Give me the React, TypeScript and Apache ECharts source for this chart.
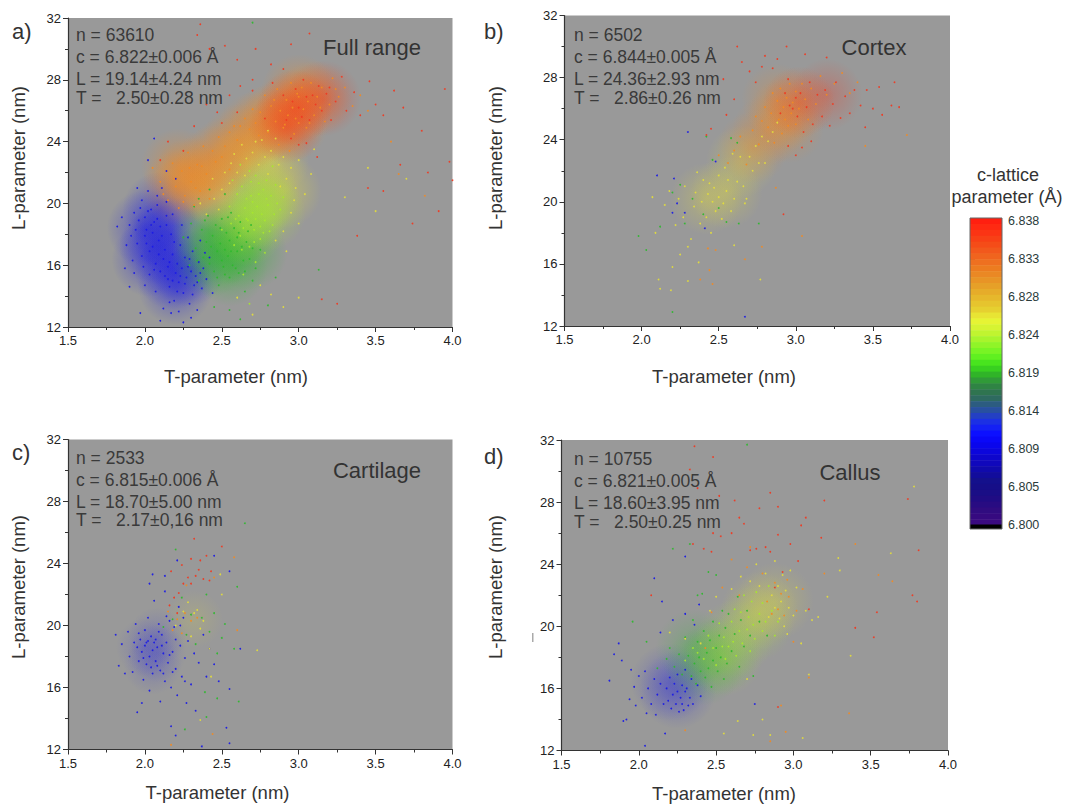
import React, { useEffect, useRef } from "react";
import * as echarts from "echarts";

const xTicks = [1.5, 2.0, 2.5, 3.0, 3.5, 4.0];
const yTicks = [12, 16, 20, 24, 28, 32];
const colorbarLabels = ["6.800", "6.805", "6.809", "6.814", "6.819", "6.824", "6.828", "6.833", "6.838"];
const colorbarBands = [
  "#ff1f10","#ff2a12","#fb3414","#f84016","#f54c18","#f2581c","#f0641e","#ee7020","#ec7c20","#ea8824","#e89426","#e6a028",
  "#e6ac2a","#e6b82c","#e6c42e","#e6d030","#e8e434","#e6f434","#d6f432","#c0f430","#a8f42c","#90f428","#78f424","#60f020","#48e41e","#38d020",
  "#30b428","#309a38","#2f8444","#2f7450","#2e6a60","#2c5c80","#2850a0","#2440c4","#1c30e4","#1420f4","#0c10ff","#0a08f8","#0a06ec","#0c06dc","#0e06cc","#1008bc",
  "#100aac","#120c9c","#14108c","#160e88","#1a0e86","#200c84","#280c82","#300c80","#360a80","#3a0a80"
];

// Panel a: Full range (T nm, L nm pairs)
const aBlue = [1.9,18.6,1.93,19.4,1.95,17.4,1.96,18.9,1.98,20.2,1.98,16.6,2.0,19.1,2.0,17.9,2.01,18.3,2.02,20.8,2.03,16.9,2.03,15.4,2.04,19.6,2.05,18.1,2.05,17.2,2.06,18.8,2.07,14.3,2.07,16.1,2.08,19.9,2.09,17.6,2.1,15.6,2.1,18.5,2.11,21.0,2.12,16.4,2.12,13.2,2.13,17.0,2.14,19.2,2.15,15.1,2.15,15.9,2.16,14.6,2.17,18.0,2.18,16.7,2.18,15.0,2.19,13.7,2.2,15.5,2.2,21.6,2.21,16.1,2.22,14.9,2.23,17.3,2.24,15.8,2.25,14.2,2.26,16.5,2.27,15.2,2.28,15.9,2.29,13.5,2.3,15.6,2.31,16.9,2.32,14.7,2.33,15.3,2.35,16.2,2.37,14.5,2.38,15.8,2.4,15.1,2.42,16.5,2.44,14.2,2.3,12.6,2.1,12.4,1.97,12.9,1.85,19.1,1.87,15.8,1.82,18.5,1.9,14.6,1.92,16.3,2.02,22.8,2.06,24.2,1.88,17.3,1.93,15.5,2.0,14.7,2.08,20.5,2.14,20.1,2.18,19.3,2.24,18.6,2.28,17.8,2.36,17.6,2.14,22.1,1.95,21.0,2.17,12.9,2.34,13.1,2.25,12.3,1.91,17.9,1.94,18.3,1.97,19.7,1.99,15.9,2.01,17.4,2.02,19.5,2.04,18.6,2.06,15.7,2.08,19.0,2.09,16.7,2.11,17.9,2.13,15.3,2.14,18.6,2.16,16.2,2.19,17.5,2.21,14.3,2.23,15.3,2.26,14.8,2.29,16.4,2.31,14.1,2.34,14.9,2.36,15.5,2.39,16.8,2.16,13.6,2.22,13.0];
const aGreen = [2.25,17.8,2.3,18.7,2.33,17.1,2.35,15.0,2.37,18.3,2.38,16.5,2.4,17.5,2.41,19.2,2.42,16.1,2.44,17.9,2.45,15.6,2.46,18.6,2.47,16.9,2.48,14.7,2.49,17.4,2.5,16.3,2.5,19.0,2.51,15.9,2.52,17.0,2.53,18.1,2.54,16.6,2.55,15.2,2.55,17.6,2.56,19.4,2.57,16.0,2.58,18.4,2.6,16.9,2.6,17.8,2.61,15.5,2.62,18.8,2.63,17.2,2.64,16.3,2.65,14.3,2.66,17.5,2.67,18.2,2.68,16.4,2.7,17.1,2.72,15.8,2.45,13.3,2.55,13.1,2.8,13.4,2.62,12.5,2.35,20.3,2.42,20.9,2.52,20.6,2.7,15.0,2.29,16.0,2.32,19.8,2.75,17.0,2.85,15.2,3.13,15.7,2.7,31.7,2.34,16.3,2.39,18.9,2.43,17.2,2.47,15.2,2.49,18.4,2.52,15.4,2.54,19.1,2.56,16.9,2.59,15.8,2.61,18.1,2.65,15.6,2.69,18.6];
const aLime = [2.5,18.3,2.55,19.8,2.56,18.7,2.58,17.3,2.6,20.6,2.61,19.2,2.62,17.9,2.63,21.1,2.64,18.4,2.65,19.7,2.66,20.3,2.67,18.9,2.68,17.2,2.69,21.4,2.7,19.4,2.7,20.1,2.71,18.3,2.72,19.0,2.72,21.8,2.73,19.8,2.74,20.6,2.75,18.5,2.75,17.7,2.76,19.3,2.77,20.9,2.78,18.9,2.79,21.5,2.8,19.9,2.81,18.2,2.82,20.5,2.84,19.3,2.85,21.2,2.88,19.6,2.9,20.4,2.68,22.1,2.62,22.5,2.57,21.5,2.83,22.4,2.78,16.8,2.72,16.2,2.64,15.4,2.68,13.5,2.59,19.0,2.63,17.0,2.66,19.0,2.69,20.5,2.71,17.5,2.74,21.3,2.77,18.1,2.79,20.3,2.83,18.6,2.86,20.0];
const aYellow = [2.4,19.3,2.45,20.3,2.5,20.9,2.52,22.0,2.55,21.3,2.58,23.2,2.6,22.0,2.63,23.8,2.66,22.9,2.7,23.3,2.74,22.5,2.76,24.1,2.78,23.0,2.8,21.9,2.82,23.4,2.85,24.2,2.87,22.5,2.9,23.0,2.92,21.6,2.95,22.3,2.98,21.0,3.0,22.8,3.04,20.6,3.08,21.9,2.9,18.2,2.95,19.4,3.0,18.7,2.85,17.6,2.92,16.9,2.75,14.7,2.82,14.1,2.9,13.3,3.0,13.9,2.6,13.9,2.7,12.8,3.3,20.4,3.45,22.3,3.5,19.5,3.7,21.6,2.44,21.6,2.36,20.0,3.1,23.5,2.48,19.6,2.56,22.6,2.65,21.8,2.72,24.0,2.8,24.7,2.88,21.1,2.97,20.2];
const aOrange = [2.05,22.3,2.1,21.4,2.15,20.2,2.18,22.6,2.2,21.1,2.22,19.7,2.24,22.1,2.26,20.5,2.28,23.3,2.3,21.4,2.32,19.9,2.34,22.5,2.36,20.8,2.38,23.7,2.4,21.9,2.42,20.3,2.46,22.7,2.48,24.3,2.5,23.0,2.55,24.6,2.58,25.0,2.6,24.1,2.65,25.5,2.68,24.8,2.7,26.1,2.72,25.2,2.75,25.9,2.78,27.0,2.8,24.6,2.82,26.3,2.85,25.3,2.86,27.4,2.88,26.0,2.9,24.9,2.92,26.7,2.93,25.7,2.95,27.8,2.96,26.2,2.97,24.5,2.98,25.5,3.0,26.9,3.0,25.2,3.02,27.5,3.03,26.1,3.05,24.9,3.06,26.6,3.08,27.8,3.1,25.7,3.12,26.9,3.15,27.5,3.17,25.3,3.2,26.4,3.22,28.1,3.26,26.9,3.3,27.5,3.35,26.3,3.4,27.0,3.45,26.0,2.87,23.8,2.94,23.4,3.6,24.0,3.65,21.9,3.82,20.5,2.55,22.2,2.12,20.6,2.19,21.6,2.25,20.1,2.29,22.3,2.33,21.0,2.37,22.4,2.44,23.4,2.52,23.7,2.62,25.0,2.74,24.4,2.84,26.7,2.91,25.1,2.99,27.1,3.07,25.2,3.14,26.2,3.24,27.4];
const aRed = [2.36,31.6,2.34,30.9,2.42,30.0,2.52,30.2,2.6,29.3,2.72,30.0,2.82,29.0,2.9,28.7,3.07,31.0,2.95,30.3,2.7,28.0,2.62,27.6,2.55,27.0,2.4,26.4,2.47,25.9,2.32,25.0,2.15,24.0,2.1,22.8,2.25,23.4,2.5,25.2,2.6,25.9,2.7,27.3,2.78,25.5,2.83,27.8,2.9,27.0,2.92,25.4,2.96,26.6,2.98,27.4,3.0,26.2,3.02,25.6,3.03,28.0,3.05,26.9,3.07,25.4,3.09,27.0,3.11,26.4,3.13,27.6,3.15,26.0,3.18,27.1,3.2,27.5,3.21,25.4,3.24,26.6,3.28,28.2,3.31,26.0,3.36,27.2,3.4,25.7,3.46,27.9,3.5,26.4,3.55,25.7,3.62,27.3,3.68,26.2,3.95,27.4,3.98,22.7,4.0,21.5,3.91,19.5,3.84,22.0,3.74,18.7,3.8,24.7,3.66,22.5,3.55,20.8,3.45,21.0,3.38,17.9,3.15,13.8,3.25,13.5,3.0,23.8,2.95,24.2,3.05,23.9,3.12,23.0];
// Panel b: Cortex
const bBlue = [2.1,21.7,2.21,21.5,2.23,19.9,2.2,19.3,2.28,19.3,2.3,24.5,2.48,22.6,2.67,12.6,2.41,18.3];
const bGreen = [1.98,17.8,2.03,16.9,2.12,18.4,2.2,20.6,2.25,21.1,2.28,18.6,2.33,20.2,2.4,19.2,2.46,22.7,2.5,19.6,2.55,18.7,2.42,24.2,2.58,24.1,2.2,12.9,2.63,18.6,2.76,18.6,2.62,23.8];
const bYellow = [2.07,20.3,2.09,18.0,2.11,15.0,2.12,14.4,2.15,19.8,2.18,20.7,2.2,15.8,2.22,18.5,2.24,20.2,2.25,16.6,2.27,19.0,2.28,21.0,2.3,14.9,2.32,17.6,2.34,19.7,2.35,20.6,2.36,21.9,2.38,18.6,2.39,20.0,2.4,21.4,2.42,19.0,2.43,20.5,2.44,21.2,2.45,18.0,2.46,20.0,2.47,20.9,2.48,19.4,2.5,20.3,2.5,21.7,2.52,18.9,2.53,19.9,2.54,22.2,2.55,20.7,2.56,21.4,2.58,19.4,2.59,23.1,2.6,20.2,2.62,21.3,2.64,22.9,2.66,21.0,2.67,19.9,2.7,22.9,2.72,22.0,2.74,23.6,2.76,22.5,2.78,24.2,2.8,22.5,2.82,23.9,2.85,24.5,2.88,25.1,2.3,17.1,2.37,16.1,2.19,14.3,2.77,15.0,2.6,17.2,2.68,20.2];
const bOrange = [2.48,16.9,2.44,15.6,2.38,15.0,2.46,14.7,2.43,17.0,2.5,23.0,2.56,22.5,2.6,23.3,2.64,24.2,2.68,22.4,2.72,24.6,2.74,25.5,2.76,23.7,2.78,25.2,2.8,26.1,2.82,24.8,2.84,25.7,2.85,27.0,2.86,23.8,2.88,26.5,2.89,25.3,2.9,27.3,2.91,24.4,2.92,26.1,2.93,25.3,2.94,26.7,2.95,24.9,2.96,27.6,2.97,25.7,2.98,26.4,3.0,25.0,3.0,27.1,3.02,26.0,3.04,27.6,3.06,26.6,3.08,25.3,3.1,27.3,3.13,26.3,3.16,28.1,3.2,26.9,3.25,27.6,3.3,28.3,3.35,27.0,3.4,27.7,3.72,24.3,3.45,23.6,2.78,17.1,3.04,17.8,2.87,20.9,2.67,16.3];
const bRed = [2.62,30.0,2.7,28.4,2.8,29.4,2.88,29.2,2.94,30.0,3.06,29.5,3.2,29.3,2.53,27.9,2.55,25.6,2.6,26.6,2.45,24.7,2.42,24.3,2.65,29.0,2.74,27.7,2.78,28.7,2.85,28.6,2.95,27.9,2.9,25.7,2.93,27.0,2.96,26.2,2.98,26.0,3.0,26.7,3.01,25.5,3.03,27.0,3.05,24.5,3.07,26.1,3.09,27.7,3.11,25.0,3.14,26.9,3.17,25.5,3.19,27.2,3.22,24.9,3.24,26.3,3.26,27.7,3.29,25.4,3.32,26.8,3.35,25.7,3.38,27.2,3.42,26.2,3.45,24.8,3.46,27.2,3.5,26.0,3.54,27.4,3.56,25.6,3.62,26.2,3.64,27.7,3.67,26.1,3.04,23.5,3.1,23.9,3.0,23.0,2.95,23.6,2.92,19.2];
// Panel c: Cartilage
const cBlue = [1.81,19.4,1.83,17.4,1.85,18.8,1.87,16.9,1.89,19.6,1.9,18.0,1.92,17.0,1.94,20.1,1.95,18.6,1.95,14.4,1.96,17.7,1.97,19.1,1.98,18.3,1.99,16.5,2.0,19.7,2.0,18.7,2.01,17.5,2.02,20.5,2.03,18.0,2.03,15.8,2.04,19.3,2.05,18.4,2.05,16.9,2.06,21.6,2.07,19.1,2.07,17.7,2.08,18.6,2.09,20.1,2.1,15.1,2.1,17.1,2.11,19.4,2.12,18.2,2.13,16.4,2.13,22.2,2.14,18.9,2.15,17.6,2.16,20.3,2.17,16.0,2.17,13.5,2.18,18.3,2.19,19.9,2.2,17.2,2.21,15.5,2.22,21.2,2.23,18.7,2.24,16.7,2.25,20.5,2.26,17.9,2.27,15.0,2.28,19.0,2.3,16.2,2.32,18.2,2.33,14.5,2.35,17.6,2.38,19.4,2.4,16.7,2.42,18.5,2.45,17.5,2.48,16.4,2.55,23.5,2.55,12.4,2.53,13.4,2.37,12.2,2.2,12.9,2.05,23.3,2.03,22.7,2.13,23.2,2.21,24.2,2.45,24.5,2.62,18.5,2.55,15.9,1.98,15.0,1.93,18.9,1.96,19.5,1.99,17.9,2.01,18.9,2.02,19.0,2.04,17.3,2.06,18.9,2.08,17.4,2.09,19.6,2.11,18.7,2.12,16.9,2.14,20.6,2.16,18.1,2.18,17.0,2.2,19.1,2.23,20.0,2.26,16.4];
const cGreen = [2.2,24.9,2.12,19.9,2.18,20.4,2.24,21.8,2.27,19.4,2.3,20.7,2.33,18.8,2.37,20.5,2.4,22.0,2.42,19.6,2.45,20.8,2.47,18.2,2.5,19.2,2.52,20.1,2.6,22.5,2.65,26.6,2.39,15.7,2.47,15.3,2.61,15.1,2.26,13.3,2.4,14.1,2.58,18.5];
const cYellow = [2.2,20.0,2.25,20.9,2.28,21.5,2.3,19.3,2.32,20.8,2.34,21.0,2.36,19.8,2.38,20.3,2.42,18.5,2.49,23.3,2.5,22.0,2.73,18.4,2.36,13.9,2.43,16.7];
const cOrange = [2.15,20.9,2.18,19.7,2.21,20.4,2.24,19.5,2.26,20.8,2.27,22.6,2.3,20.3,2.34,20.5,2.45,23.1,2.58,24.4,2.6,19.7,2.17,12.3,2.44,13.0];
const cRed = [2.32,25.6,2.5,25.1,2.17,23.5,2.24,23.9,2.28,23.1,2.3,24.3,2.33,23.2,2.35,23.6,2.36,24.2,2.38,23.0,2.4,24.5,2.42,22.9,2.25,22.7,2.22,22.1,2.16,21.3,2.21,20.8,2.19,21.8,2.3,22.7,2.43,23.5];
// Panel d: Callus
const dBlue = [1.81,16.5,1.84,18.2,1.87,18.9,1.89,17.8,1.9,13.9,1.92,14.0,1.94,15.3,1.95,17.2,1.97,16.1,1.98,14.9,2.0,16.8,2.02,15.4,2.04,17.1,2.05,14.4,2.06,16.0,2.08,15.0,2.1,16.6,2.1,23.1,2.11,14.3,2.12,15.6,2.14,16.3,2.14,19.6,2.15,21.6,2.16,15.0,2.17,13.1,2.18,16.0,2.19,15.2,2.2,16.7,2.21,14.7,2.22,15.6,2.22,20.4,2.23,16.3,2.24,15.0,2.25,15.8,2.25,16.9,2.26,14.5,2.27,15.4,2.28,16.2,2.28,15.0,2.29,14.6,2.3,15.8,2.3,17.2,2.31,16.0,2.32,14.9,2.33,15.4,2.34,16.6,2.35,15.0,2.36,20.1,2.38,16.2,2.39,21.4,2.4,15.5,2.3,24.5,2.04,12.3,2.3,20.8,2.75,15.0];
const dGreen = [1.96,20.3,2.05,19.0,2.12,17.3,2.18,17.9,2.2,18.6,2.23,17.4,2.26,18.2,2.28,16.9,2.3,19.3,2.32,18.1,2.34,16.8,2.35,20.4,2.36,17.6,2.37,16.3,2.38,19.0,2.39,18.0,2.4,17.1,2.41,22.1,2.42,19.7,2.43,16.7,2.44,18.3,2.45,17.3,2.46,19.1,2.47,16.1,2.48,20.3,2.48,17.8,2.5,18.6,2.5,23.3,2.51,17.1,2.52,19.4,2.53,18.0,2.54,21.0,2.55,16.6,2.56,19.9,2.57,17.6,2.58,20.8,2.6,18.4,2.62,19.5,2.64,21.9,2.65,17.4,2.66,20.4,2.68,18.7,2.7,21.0,2.72,19.4,2.74,16.8,2.78,20.3,2.83,19.4,2.33,25.3,2.7,31.7,2.22,25.0,2.38,22.0,2.45,23.5];
const dLime = [2.3,17.8,2.35,18.6,2.38,18.3,2.42,17.9,2.45,19.4,2.48,18.6,2.5,17.5,2.52,20.2,2.54,18.7,2.55,19.3,2.56,17.9,2.58,18.7,2.6,20.3,2.61,19.0,2.62,21.1,2.63,18.1,2.65,19.7,2.66,20.9,2.67,18.9,2.68,22.0,2.7,19.8,2.71,20.6,2.72,18.4,2.73,21.6,2.74,20.1,2.75,19.2,2.76,22.2,2.78,20.8,2.8,19.7,2.8,21.5,2.82,20.3,2.84,22.6,2.86,21.0,2.88,19.4,2.9,20.3];
const dYellow = [2.2,19.6,2.3,19.2,2.4,18.9,2.46,21.0,2.5,21.9,2.55,13.1,2.6,22.4,2.64,13.9,2.66,23.2,2.7,16.6,2.72,22.9,2.74,13.0,2.76,24.0,2.78,22.6,2.8,14.0,2.82,23.4,2.84,20.6,2.85,13.0,2.86,22.0,2.88,21.2,2.88,24.2,2.9,22.6,2.91,20.5,2.92,21.6,2.93,23.3,2.94,20.0,2.95,22.3,2.96,19.5,2.97,21.2,2.98,23.6,3.0,20.7,3.02,22.5,3.05,18.9,3.08,21.0,3.12,20.4,3.16,20.6,3.22,21.9,3.29,24.4,3.3,23.6,3.37,18.1,3.63,24.7,3.78,29.0,3.06,12.8,3.1,16.9];
const dOrange = [2.3,13.3,2.43,18.6,2.47,20.9,2.54,22.5,2.6,24.3,2.65,22.0,2.7,23.8,2.72,25.1,2.8,23.4,2.83,21.6,2.86,20.8,2.88,22.8,2.9,21.1,2.92,22.1,2.94,20.7,2.96,23.0,2.97,21.9,3.0,19.0,3.02,21.0,3.06,22.4,3.1,16.7,3.2,23.4,3.4,25.3,3.36,14.4,3.55,23.3,3.64,22.9,2.92,14.9,2.85,12.6,2.95,13.2];
const dRed = [2.36,31.6,2.48,30.9,2.33,30.1,2.38,28.9,2.52,28.4,2.62,28.1,2.85,28.6,2.78,27.6,2.9,27.7,3.2,28.1,3.74,28.2,3.81,24.9,3.8,21.6,3.77,22.0,3.52,19.3,3.54,20.9,3.4,19.9,2.35,25.3,2.42,25.0,2.47,24.8,2.53,25.8,2.6,26.0,2.65,27.0,2.72,24.9,2.76,25.0,2.82,25.1,2.85,24.8,2.9,25.9,2.98,25.3,3.05,26.5,3.08,27.0,3.18,25.7,2.88,22.5,2.93,23.5,3.03,24.2,3.1,21.1,2.08,22.0,2.9,14.8,2.48,26.0,2.68,26.6];

// soft density of the crowded parts of each cloud
const aBlueCloud = [2.0,18.4,2.08,17.2,2.03,16.4,2.18,15.6,2.28,15.8,2.16,18.0,2.1,19.6,2.2,14.6];
const aGreenCloud = [2.42,16.4,2.52,17.2,2.6,18.2,2.42,18.0,2.55,15.8,2.68,16.8];
const aLimeCloud = [2.7,19.5,2.76,20.5,2.66,18.4,2.8,19.4];
const aYellowCloud = [2.5,20.6,2.66,22.6,2.82,22.8,2.9,20.8];
const aOrangeCloud = [2.22,21.0,2.3,21.8,2.38,21.2,2.22,22.4,2.45,22.6,2.52,23.1,2.62,24.0,2.72,24.8,2.8,25.2,2.88,25.6,2.95,25.2,2.98,26.2,3.1,26.8,3.0,27.2];
const aRedCloud = [2.97,26.2,3.16,26.8,2.92,25.0];
const bYellowCloud = [2.42,20.2,2.55,20.6,2.65,22.6];
const bOrangeCloud = [2.72,23.5,2.82,24.6,2.92,25.6,2.95,24.8,3.02,26.4,2.88,26.6];
const bRedCloud = [3.02,26.4,3.2,26.9];
const cBlueCloud = [2.0,18.6,2.08,18.2,2.05,17.4,2.08,19.3];
const cYellowCloud = [2.32,20.4];
const dBlueCloud = [2.25,15.9,2.2,16.4];
const dGreenCloud = [2.42,17.4,2.52,18.1,2.36,18.6];
const dLimeCloud = [2.62,19.2,2.75,20.2,2.55,18.0];
const dYellowCloud = [2.88,21.6,2.78,21.0];

const BLUE = "#1a1ae6", GREEN = "#2eb82e", LIME = "#a6e62e", YELLOW = "#e2dc3c", ORANGE = "#f08a24", RED = "#ef3a22";

const dotsA = [[aBlue, BLUE],[aGreen, GREEN],[aYellow, YELLOW],[aLime, LIME],[aOrange, ORANGE],[aRed, RED]];
const dotsB = [[bBlue, BLUE],[bGreen, GREEN],[bYellow, YELLOW],[bOrange, ORANGE],[bRed, RED]];
const dotsC = [[cBlue, BLUE],[cGreen, GREEN],[cYellow, YELLOW],[cOrange, ORANGE],[cRed, RED]];
const dotsD = [[dBlue, BLUE],[dGreen, GREEN],[dLime, LIME],[dYellow, YELLOW],[dOrange, ORANGE],[dRed, RED]];
const cloudsA = [[aBlueCloud, BLUE],[aGreenCloud, GREEN],[aYellowCloud, YELLOW],[aLimeCloud, LIME],[aOrangeCloud, ORANGE],[aRedCloud, RED]];
const cloudsB = [[bYellowCloud, YELLOW],[bOrangeCloud, ORANGE],[bRedCloud, RED]];
const cloudsC = [[cBlueCloud, BLUE],[cYellowCloud, YELLOW]];
const cloudsD = [[dBlueCloud, BLUE],[dGreenCloud, GREEN],[dLimeCloud, LIME],[dYellowCloud, YELLOW]];

const panels: any[] = [
  { left: 68, top: 18, width: 384.5, height: 309, tag: "a)", tagX: 12, tagY: 31, title: "Full range", titleX: 372, titleY: 47, statX: 76, statY: [35, 57, 79, 98], xNameX: 236, xNameY: 376, yNameX: 18, yNameY: 158, stats: ["n = 63610", "c = 6.822±0.006 Å", "L = 19.14±4.24 nm", "T =   2.50±0.28 nm"], dots: dotsA, clouds: cloudsA, cloudSize: 76, cloudAlpha: 0.58 },
  { left: 564.5, top: 15.5, width: 385.5, height: 310.5, tag: "b)", tagX: 484, tagY: 31, title: "Cortex", titleX: 874, titleY: 47, statX: 574, statY: [35, 57, 79, 98], xNameX: 724, xNameY: 376, yNameX: 495, yNameY: 158, stats: ["n = 6502", "c = 6.844±0.005 Å", "L = 24.36±2.93 nm", "T =   2.86±0.26 nm"], dots: dotsB, clouds: cloudsB, cloudSize: 72, cloudAlpha: 0.4 },
  { left: 68, top: 439.5, width: 384.5, height: 310, tag: "c)", tagX: 12, tagY: 452, title: "Cartilage", titleX: 377, titleY: 470, statX: 76, statY: [458, 480, 502, 520], xNameX: 217.5, xNameY: 792.5, yNameX: 18, yNameY: 587, stats: ["n = 2533", "c = 6.815±0.006 Å", "L = 18.70±5.00 nm", "T =   2.17±0,16 nm"], dots: dotsC, clouds: cloudsC, cloudSize: 58, cloudAlpha: 0.22 },
  { left: 561.5, top: 440, width: 386.5, height: 310.5, tag: "d)", tagX: 484, tagY: 456, title: "Callus", titleX: 850, titleY: 472, statX: 574, statY: [459, 481, 503, 522], xNameX: 724, xNameY: 793, yNameX: 495, yNameY: 587, stats: ["n = 10755", "c = 6.821±0.005 Å", "L = 18.60±3.95 nm", "T =   2.50±0.25 nm"], dots: dotsD, clouds: cloudsD, cloudSize: 78, cloudAlpha: 0.36 },
];

const pairs = (flat: number[]) => {
  const out: number[][] = [];
  for (let i = 0; i + 1 < flat.length; i += 2) out.push([flat[i], flat[i + 1]]);
  return out;
};
const FONT = "'Liberation Sans', Arial, sans-serif";
const rgba = (hex: string, a: number) =>
  `rgba(${parseInt(hex.slice(1, 3), 16)},${parseInt(hex.slice(3, 5), 16)},${parseInt(hex.slice(5, 7), 16)},${a})`;

function buildOption() {
  const grid: any[] = [];
  const xAxis: any[] = [];
  const yAxis: any[] = [];
  const series: any[] = [];
  const graphic: any[] = [];
  const text = (t: string, x: number, y: number, size: number, fill: string, align = "left", rotation = 0) => ({
    type: "text", x, y, rotation, z: 50,
    style: { text: t, fill, font: `${size}px ${FONT}`, textAlign: align, textVerticalAlign: "middle" },
  });
  panels.forEach((p, i) => {
    grid.push({ left: p.left, top: p.top, width: p.width, height: p.height, show: true, backgroundColor: "#999999", borderWidth: 0 });
    xAxis.push({
      gridIndex: i, type: "value", min: xTicks[0], max: xTicks[xTicks.length - 1], interval: 0.5, splitLine: { show: false },
      axisLine: { lineStyle: { color: "#333", width: 1.2 } }, axisTick: { length: 5, lineStyle: { color: "#333" } },
      minorTick: { show: true, splitNumber: 2, length: 3, lineStyle: { color: "#333" } },
      axisLabel: { color: "#222", fontSize: 13, fontFamily: FONT, margin: 7, formatter: (v: number) => v.toFixed(1) },
    });
    yAxis.push({
      gridIndex: i, type: "value", min: yTicks[0], max: yTicks[yTicks.length - 1], interval: 4, splitLine: { show: false },
      axisLine: { lineStyle: { color: "#333", width: 1.2 } }, axisTick: { length: 5, lineStyle: { color: "#333" } },
      minorTick: { show: true, splitNumber: 2, length: 3, lineStyle: { color: "#333" } },
      axisLabel: { color: "#222", fontSize: 13, fontFamily: FONT, margin: 7 },
    });
    p.clouds.forEach(([flat, color]: any) => series.push({
      type: "scatter", xAxisIndex: i, yAxisIndex: i, data: pairs(flat), symbolSize: p.cloudSize, silent: true, z: 2,
      itemStyle: {
        color: new echarts.graphic.RadialGradient(0.5, 0.5, 0.5, [
          { offset: 0, color: rgba(color, p.cloudAlpha) },
          { offset: 0.55, color: rgba(color, p.cloudAlpha * 0.45) },
          { offset: 1, color: rgba(color, 0) },
        ]),
      },
    }));
    p.dots.forEach(([flat, color]: any) => series.push({
      type: "scatter", xAxisIndex: i, yAxisIndex: i, data: pairs(flat), symbolSize: 1.8, silent: true,
      itemStyle: { color, opacity: 0.95 }, z: 3,
    }));
    graphic.push(text(p.tag, p.tagX, p.tagY, 22, "#333"));
    graphic.push(text(p.title, p.titleX, p.titleY, 22, "#333", "center"));
    p.stats.forEach((s: string, k: number) => graphic.push(text(s, p.statX, p.statY[k], 17.5, "#3a3a3a")));
    graphic.push(text("T-parameter (nm)", p.xNameX, p.xNameY, 18.5, "#333", "center"));
    graphic.push(text("L-parameter (nm)", p.yNameX, p.yNameY, 18.5, "#333", "center", Math.PI / 2));
  });

  // colour scale
  const cb = panels.length;
  grid.push({ left: 970, top: 218, width: 32, height: 311, show: false });
  xAxis.push({ gridIndex: cb, type: "value", min: 0, max: 1, show: false });
  yAxis.push({
    gridIndex: cb, type: "value", min: -0.1, max: 8.08, position: "right", splitLine: { show: false },
    axisLine: { show: false },
    axisTick: { show: true, length: 5, lineStyle: { color: "#555" }, customValues: colorbarLabels.map((_, k) => k) },
    axisLabel: { color: "#2b3b3b", fontSize: 12.5, fontFamily: FONT, margin: 6, customValues: colorbarLabels.map((_, k) => k), formatter: (v: number) => colorbarLabels[v] },
  });
  const n = colorbarBands.length;
  const span = 8.08;
  series.push({
    type: "custom", xAxisIndex: cb, yAxisIndex: cb, silent: true, clip: false,
    data: colorbarBands.map((c, k) => [k, c]),
    renderItem: (_: any, api: any) => {
      const k = api.value(0);
      const hi = api.coord([0, span - (k * span) / n]);
      const lo = api.coord([1, span - ((k + 1) * span) / n]);
      return { type: "rect", shape: { x: hi[0], y: hi[1], width: lo[0] - hi[0], height: lo[1] - hi[1] + 0.5 }, style: { fill: colorbarBands[k] } };
    },
  });
  graphic.push({ type: "rect", z: 40, shape: { x: 970, y: 524.5, width: 32, height: 4.5 }, style: { fill: "#000" } });
  graphic.push({ type: "rect", z: 41, shape: { x: 970, y: 218, width: 32, height: 311 }, style: { fill: "none", stroke: "#666", lineWidth: 1 } });
  graphic.push(text("c-lattice", 1008, 175, 18, "#333", "center"));
  graphic.push(text("parameter (Å)", 1007, 197, 18, "#333", "center"));
  graphic.push({ type: "rect", z: 40, shape: { x: 532, y: 633, width: 1.5, height: 9 }, style: { fill: "#aaa" } });

  return { animation: false, backgroundColor: "#ffffff", grid, xAxis, yAxis, series, graphic, tooltip: { show: false } };
}

export default function App() {
  const ref = useRef<HTMLDivElement>(null);
  useEffect(() => {
    document.body.style.margin = "0";
    const chart = echarts.init(ref.current!, undefined, { renderer: "svg" });
    chart.setOption(buildOption() as any);
    return () => chart.dispose();
  }, []);
  return <div ref={ref} style={{ width: 1065, height: 806 }} />;
}
